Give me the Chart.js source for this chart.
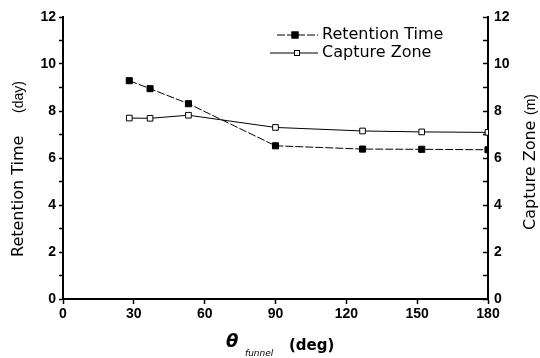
<!DOCTYPE html>
<html>
<head>
<meta charset="utf-8">
<script src="https://cdn.jsdelivr.net/npm/chart.js@4"></script>
<style>
  html, body { margin: 0; padding: 0; background: #fff; }
  #wrap { width: 540px; height: 358px; }
</style>
</head>
<body>
<div id="wrap"><canvas id="chart" width="540" height="358"></canvas></div>
<script>
// funnel angle (deg) and the two series
const angles = [28.07, 36.87, 53.13, 90, 126.87, 151.93, 180];
const retentionTime = [9.29, 8.95, 8.31, 6.52, 6.38, 6.37, 6.35];
const captureZone = [7.70, 7.69, 7.82, 7.30, 7.15, 7.11, 7.09];

const xTicks = [0, 30, 60, 90, 120, 150, 180];
const yTicks = [0, 2, 4, 6, 8, 10, 12];
const seriesNames = ['Retention Time', 'Capture Zone'];

// short lineHeight keeps the tick padding from pushing the plot top down
const tickFont = { family: 'Liberation Sans', size: 14, weight: 'bold', lineHeight: 0.8 };

function pairs(xs, ys){
    return xs.map((x, i) => ({ x: x, y: ys[i] }));
}

function evenOnly(v){
    return yTicks.includes(v) ? String(v) : '';
}

// axis titles + legend drawn inside the plot like the original
const decorations = {
    id: 'decorations',
    afterDraw(chart){
        const ctx = chart.ctx;
        ctx.save();
        ctx.fillStyle = '#000';
        ctx.textBaseline = 'middle';

        // left title, reads bottom to top
        ctx.save();
        ctx.translate(19, 0);
        ctx.rotate(-Math.PI / 2);
        ctx.textAlign = 'left';
        ctx.font = "16px 'DejaVu Sans'";
        ctx.fillText('Retention Time', -257, 0);
        ctx.font = "14px 'Liberation Sans'";
        ctx.fillText('(day)', -113, 0);
        ctx.restore();

        // right title, also bottom to top
        ctx.save();
        ctx.translate(531, 0);
        ctx.rotate(-Math.PI / 2);
        ctx.textAlign = 'left';
        ctx.font = "16px 'DejaVu Sans'";
        ctx.fillText('Capture Zone', -230, 0);
        ctx.font = "14px 'Liberation Sans'";
        ctx.fillText('(m)', -115, 0);
        ctx.restore();

        // x title
        ctx.textAlign = 'left';
        ctx.textBaseline = 'alphabetic';
        ctx.font = "italic bold 18px 'DejaVu Sans'";
        ctx.fillText('\u03b8', 226, 347);
        ctx.font = "italic 9px 'DejaVu Sans'";
        ctx.fillText('funnel', 245, 356);
        ctx.font = "bold 15px 'DejaVu Sans'";
        ctx.fillText('(deg)', 289, 350);

        // legend
        const rows = [
            { y: 35, x0: 277, x1: 318, mx: 295 },
            { y: 53, x0: 270, x1: 318, mx: 297 }
        ];
        chart.data.datasets.forEach((ds, i) => {
            const r = rows[i];
            ctx.strokeStyle = '#000';
            ctx.lineWidth = 1;
            ctx.setLineDash(ds.borderDash || []);
            ctx.beginPath();
            ctx.moveTo(r.x0, r.y);
            ctx.lineTo(r.x1, r.y);
            ctx.stroke();
            ctx.setLineDash([]);
            const s = i === 0 ? 3.5 : 3;
            ctx.fillStyle = ds.pointBackgroundColor;
            ctx.fillRect(r.mx - s, r.y - s, 2 * s, 2 * s);
            ctx.strokeRect(r.mx - s + 0.5, r.y - s + 0.5, 2 * s - 1, 2 * s - 1);
            ctx.fillStyle = '#000';
            ctx.font = "16px 'DejaVu Sans'";
            ctx.textBaseline = 'middle';
            ctx.fillText(ds.label, 322, r.y);
        });

        ctx.restore();
    }
};

new Chart(document.getElementById('chart'), {
    type: 'scatter',
    data: {
        datasets: [
            {
                label: seriesNames[0],
                data: pairs(angles, retentionTime),
                showLine: true,
                yAxisID: 'y',
                borderColor: '#000',
                borderWidth: 1,
                borderDash: [8, 2],
                pointStyle: 'rect',
                pointRadius: 4.3,
                pointBackgroundColor: '#000',
                pointBorderColor: '#000',
                pointBorderWidth: 1
            },
            {
                label: seriesNames[1],
                data: pairs(angles, captureZone),
                showLine: true,
                yAxisID: 'y2',
                borderColor: '#000',
                borderWidth: 1,
                pointStyle: 'rect',
                pointRadius: 4,
                pointBackgroundColor: '#fff',
                pointBorderColor: '#000',
                pointBorderWidth: 1
            }
        ]
    },
    options: {
        responsive: false,
        animation: false,
        layout: { padding: { top: 17, left: 0, right: 0, bottom: 0 } },
        plugins: {
            legend: { display: false },
            tooltip: { enabled: false }
        },
        scales: {
            x: {
                type: 'linear',
                min: 0,
                max: 180,
                afterBuildTicks: s => { s.ticks = xTicks.map(v => ({ value: v })); },
                afterFit: s => { s.height = 59; },
                ticks: { color: '#000', font: { family: 'Liberation Sans', size: 14, weight: 'bold' }, padding: 2, maxRotation: 0 },
                grid: { drawOnChartArea: false, color: '#000', tickLength: 5, tickWidth: 1.5 },
                border: { color: '#000', width: 2 }
            },
            y: {
                position: 'left',
                min: 0,
                max: 12,
                ticks: { stepSize: 1, color: '#000', font: tickFont, padding: 3, callback: evenOnly },
                afterFit: s => { s.width = 63; },
                grid: { drawOnChartArea: false, color: '#000', tickLength: 4, tickWidth: 1.5 },
                border: { color: '#000', width: 2 }
            },
            y2: {
                position: 'right',
                min: 0,
                max: 12,
                ticks: { stepSize: 1, color: '#000', font: tickFont, padding: 11, callback: evenOnly },
                afterFit: s => { s.width = 52; },
                grid: { drawOnChartArea: false, color: '#000', tickLength: -5, tickWidth: 1.5 },
                border: { color: '#000', width: 2 }
            }
        }
    },
    plugins: [decorations]
});
</script>
</body>
</html>
